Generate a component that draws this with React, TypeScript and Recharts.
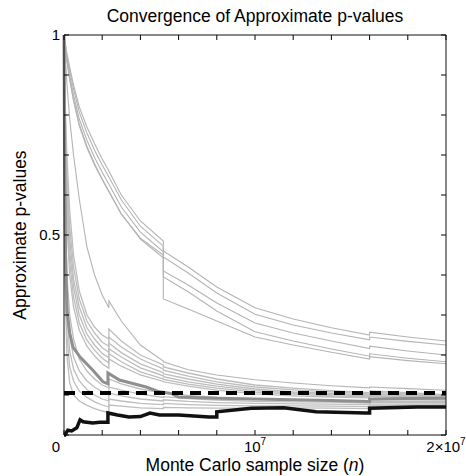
import { Line, LineChart, ReferenceLine, XAxis, YAxis } from "recharts";

const FONT = '"Liberation Sans", Arial, Helvetica, sans-serif';
const W = 466;
const H = 476;
// plot box in page pixels
const PLOT_L = 64;
const PLOT_R = 446;
const PLOT_T = 35;
const PLOT_B = 435;

const TITLE = "Convergence of Approximate p-values";
const Y_LABEL = "Approximate p-values";

// sample size grid, in millions (repeated entries = vertical jumps)
const GRID = [0, 0.05, 0.15, 0.3, 0.5, 0.8, 1.2, 1.6, 2.0, 2.35, 2.35, 3.0, 4.0, 5.2, 5.2, 6.5, 8.0, 10, 12, 14, 16, 16, 18, 20];

// upper group, slow convergence
const TOP_1 = [1, .985, .955, .92, .875, .82, .77, .728, .69, .66, .66, .6, .535, .485, .46, .42, .37, .318, .29, .268, .25, .257, .245, .235];
const TOP_2 = [1, .982, .95, .91, .865, .807, .755, .712, .675, .645, .645, .588, .522, .472, .445, .405, .355, .302, .275, .255, .238, .245, .234, .225];
const TOP_3 = [1, .978, .943, .9, .85, .79, .737, .694, .657, .627, .627, .57, .507, .458, .41, .375, .33, .28, .255, .235, .216, .222, .21, .2];
const TOP_4 = [1, .975, .936, .89, .838, .777, .722, .678, .64, .61, .61, .553, .49, .443, .395, .358, .31, .258, .235, .215, .197, .203, .192, .183];
const TOP_5 = [1, .975, .935, .888, .835, .773, .718, .675, .638, .608, .608, .552, .492, .45, .34, .315, .285, .245, .225, .207, .19, .196, .186, .178];

const MID_1 = [1, .96, .88, .79, .7, .59, .47, .4, .35, .318, .335, .285, .225, .185, .183, .163, .15, .138, .13, .123, .118, .12, .116, .112];

// lower group, near the 0.1 level
const LOW_1 = [1, .85, .7, .56, .45, .36, .3, .27, .25, .24, .265, .235, .2, .175, .17, .155, .14, .125, .117, .111, .106, .11, .106, .101];
const LOW_2 = [1, .82, .66, .52, .42, .34, .285, .255, .232, .222, .245, .22, .19, .165, .162, .147, .133, .12, .113, .108, .103, .107, .103, .099];
const LOW_3 = [1, .8, .62, .49, .39, .32, .268, .24, .218, .207, .23, .206, .178, .156, .153, .14, .127, .115, .108, .104, .1, .104, .1, .097];
const LOW_4 = [1, .78, .59, .46, .37, .3, .252, .225, .204, .193, .216, .195, .168, .148, .146, .133, .122, .111, .105, .101, .098, .102, .098, .095];
const LOW_5 = [1, .75, .56, .43, .345, .28, .237, .212, .192, .18, .203, .183, .158, .14, .139, .127, .117, .107, .102, .098, .095, .099, .096, .093];
const LOW_6 = [1, .72, .53, .4, .32, .262, .222, .198, .178, .167, .19, .172, .15, .134, .133, .122, .112, .103, .098, .095, .093, .097, .094, .091];
const LOW_7 = [1, .6, .4, .3, .24, .19, .16, .14, .125, .118, .14, .128, .115, .105, .106, .099, .094, .09, .088, .086, .085, .089, .088, .087];
const LOW_8 = [1, .55, .35, .25, .195, .16, .135, .12, .108, .1, .12, .112, .102, .094, .096, .091, .087, .084, .083, .082, .08, .085, .084, .084];
const LOW_9 = [1, .5, .3, .21, .165, .135, .114, .1, .09, .085, .105, .098, .09, .085, .088, .084, .081, .079, .078, .077, .076, .081, .081, .081];
const LOW_10 = [1, .45, .25, .17, .135, .11, .094, .083, .075, .07, .09, .085, .079, .076, .079, .076, .074, .073, .073, .072, .071, .077, .077, .078];
const LOW_11 = [1, .4, .2, .13, .1, .085, .074, .066, .06, .056, .075, .072, .068, .066, .069, .068, .067, .067, .068, .067, .066, .073, .074, .075];

// highlighted thick gray curve
const GRAY_N = [0, 0.03, 0.08, 0.16, 0.3, 0.47, 0.84, 1.5, 2.04, 2.3, 2.3, 2.9, 3.5, 4.3, 5.0, 5.6, 6.0, 8, 10, 12, 14, 16, 16, 18, 20];
const GRAY_P = [1, 0.7, 0.45, 0.31, 0.255, 0.22, 0.195, 0.1625, 0.133, 0.128, 0.155, 0.1375, 0.13, 0.12, 0.108, 0.104, 0.095, 0.092, 0.09, 0.088, 0.086, 0.084, 0.09, 0.091, 0.092];

// highlighted black curve
const BLACK_N = [0, 0.05, 0.2, 0.4, 0.67, 0.84, 1.0, 1.5, 1.88, 2.3, 2.3, 2.8, 3.4, 4.0, 4.5, 5.0, 6.0, 7.6, 8.0, 8.0, 9.8, 11.5, 13.2, 15.8, 16.0, 16.0, 18.5, 20];
const BLACK_P = [0, 0.0, 0.012, 0.01, 0.018, 0.038, 0.033, 0.03, 0.032, 0.032, 0.055, 0.05, 0.045, 0.046, 0.055, 0.05, 0.05, 0.045, 0.045, 0.058, 0.067, 0.068, 0.058, 0.055, 0.055, 0.067, 0.07, 0.07];

// significance level
const ALPHA_N = [0, 20];
const ALPHA_P = [0.105, 0.105];

const X_MAX = 2e7;
const X_TICKS = [0, 2e6, 4e6, 6e6, 8e6, 1e7, 1.2e7, 1.4e7, 1.6e7, 1.8e7, 2e7];
const Y_TICKS = [0, 0.1, 0.2, 0.3, 0.4, 0.5, 0.6, 0.7, 0.8, 0.9, 1];
// inward tick length, in data units (about 5px)
const X_TICK_LEN = 0.0125;
const Y_TICK_LEN = 2.6e5;

const TOP_LINES = [TOP_1, TOP_2, TOP_3, TOP_4, TOP_5, MID_1];
const LOW_LINES = [LOW_1, LOW_2, LOW_3, LOW_4, LOW_5, LOW_6, LOW_7, LOW_8, LOW_9, LOW_10, LOW_11];

const rows = (ns: number[], ps: number[]) => ns.map((n, i) => ({ n: n * 1e6, p: ps[i] }));

const textBase = { fill: "#000", fontSize: 15, fontFamily: FONT };

function BottomTick({ x, payload }: any) {
  const v = payload.value;
  const y = PLOT_B + 17;
  if (v === 0)
    return (
      <text {...textBase} x={x - 8} y={y} textAnchor="middle">
        0
      </text>
    );
  if (v === 1e7)
    return (
      <text {...textBase} x={x} y={y} textAnchor="middle">
        10<tspan dy={-7} fontSize={10}>7</tspan>
      </text>
    );
  if (v === 2e7)
    return (
      <text {...textBase} x={x} y={y} textAnchor="middle">
        2×10<tspan dy={-7} fontSize={10}>7</tspan>
      </text>
    );
  return <g />;
}

function LeftTick({ y, payload }: any) {
  const v = payload.value;
  const label = v === 0.5 ? "0.5" : v === 1 ? "1" : "";
  if (!label) return <g />;
  return (
    <text {...textBase} x={PLOT_L - 4} y={y + 5} textAnchor="end">
      {label}
    </text>
  );
}

const tickSeg = { stroke: "#000", strokeWidth: 1, ifOverflow: "visible" as const };

export default function App() {
  const axisStroke = "#111";
  return (
    <div style={{ position: "absolute", left: 0, top: 0, width: W, height: H, background: "#fff" }}>
      <LineChart
        width={W}
        height={H}
        margin={{ top: PLOT_T - 1, right: W - PLOT_R - 1, bottom: 0, left: PLOT_L - 40 }}
        style={{ fontFamily: FONT }}
      >
        <XAxis
          dataKey="n"
          type="number"
          domain={[0, X_MAX]}
          ticks={X_TICKS}
          interval={0}
          height={H - PLOT_B}
          tickSize={0}
          tickMargin={0}
          tickLine={false}
          stroke={axisStroke}
          tick={(p: any) => <BottomTick {...p} />}
          label={() => (
            <text x={(PLOT_L + PLOT_R) / 2} y={471} textAnchor="middle" fontSize={17.5} fontFamily={FONT} fill="#000">
              Monte Carlo sample size (<tspan fontStyle="italic">n</tspan>)
            </text>
          )}
        />
        <XAxis
          xAxisId="top"
          orientation="top"
          dataKey="n"
          type="number"
          domain={[0, X_MAX]}
          ticks={X_TICKS}
          height={1}
          tickLine={false}
          tick={false}
          stroke={axisStroke}
          label={() => (
            <text x={(PLOT_L + PLOT_R) / 2} y={22} textAnchor="middle" fontSize={17.5} fontFamily={FONT} fill="#000">
              {TITLE}
            </text>
          )}
        />
        <YAxis
          type="number"
          domain={[0, 1]}
          ticks={Y_TICKS}
          interval={0}
          width={40}
          tickSize={0}
          tickLine={false}
          stroke={axisStroke}
          tick={(p: any) => <LeftTick {...p} />}
          label={() => (
            <text
              x={26}
              y={235}
              transform="rotate(-90 26 235)"
              textAnchor="middle"
              fontSize={17.5}
              fontFamily={FONT}
              fill="#000"
            >
              {Y_LABEL}
            </text>
          )}
        />
        <YAxis
          yAxisId="right"
          orientation="right"
          type="number"
          domain={[0, 1]}
          width={1}
          tickLine={false}
          tick={false}
          stroke={axisStroke}
        />
        {TOP_LINES.map((ps, i) => (
          <Line
            key={`top-${i}`}
            data={rows(GRID, ps)}
            dataKey="p"
            type="linear"
            stroke="#b4b4b4"
            strokeWidth={1.1}
            dot={false}
            activeDot={false}
            isAnimationActive={false}
          />
        ))}
        {LOW_LINES.map((ps, i) => (
          <Line
            key={`low-${i}`}
            data={rows(GRID, ps)}
            dataKey="p"
            type="linear"
            stroke="#bdbdbd"
            strokeWidth={1.3}
            dot={false}
            activeDot={false}
            isAnimationActive={false}
          />
        ))}
        <Line
          data={rows(GRAY_N, GRAY_P)}
          dataKey="p"
          type="linear"
          stroke="#8f8f8f"
          strokeWidth={3}
          dot={false}
          activeDot={false}
          isAnimationActive={false}
        />
        <Line
          data={rows(BLACK_N, BLACK_P)}
          dataKey="p"
          type="linear"
          stroke="#111"
          strokeWidth={3.5}
          dot={false}
          activeDot={false}
          isAnimationActive={false}
        />
        <Line
          data={rows(ALPHA_N, ALPHA_P)}
          dataKey="p"
          type="linear"
          stroke="#000"
          strokeWidth={4}
          strokeDasharray="11 7"
          dot={false}
          activeDot={false}
          isAnimationActive={false}
        />
        {/* inward ticks on all four sides of the box */}
        {X_TICKS.map((t) => (
          <ReferenceLine
            key={`xb-${t}`}
            {...tickSeg}
            segment={[
              { x: t, y: 0 },
              { x: t, y: X_TICK_LEN },
            ]}
          />
        ))}
        {X_TICKS.map((t) => (
          <ReferenceLine
            key={`xt-${t}`}
            {...tickSeg}
            segment={[
              { x: t, y: 1 },
              { x: t, y: 1 - X_TICK_LEN },
            ]}
          />
        ))}
        {Y_TICKS.map((t) => (
          <ReferenceLine
            key={`yl-${t}`}
            {...tickSeg}
            segment={[
              { x: 0, y: t },
              { x: Y_TICK_LEN, y: t },
            ]}
          />
        ))}
        {Y_TICKS.map((t) => (
          <ReferenceLine
            key={`yr-${t}`}
            {...tickSeg}
            segment={[
              { x: X_MAX, y: t },
              { x: X_MAX - Y_TICK_LEN, y: t },
            ]}
          />
        ))}
      </LineChart>
    </div>
  );
}
